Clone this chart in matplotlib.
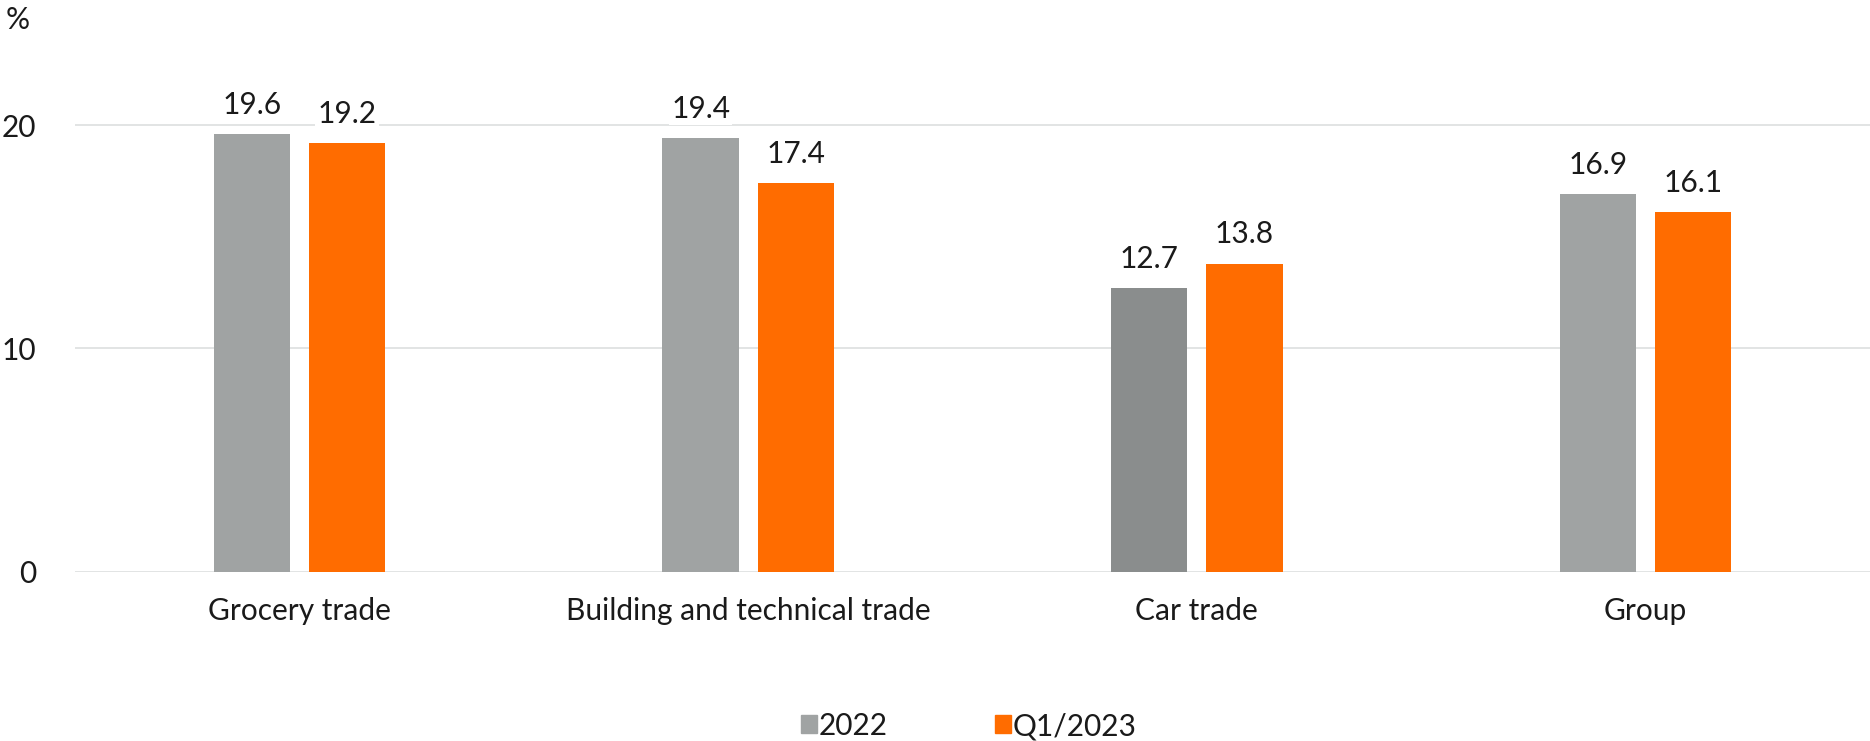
import numpy as np
import matplotlib.pyplot as plt
from matplotlib.patches import Patch

plt.rcParams['font.family'] = ['Lato', 'DejaVu Sans']

categories = ["Grocery trade", "Building and technical trade", "Car trade", "Group"]
series_names = ["2022", "Q1/2023"]
vals_2022 = [19.6, 19.4, 12.7, 16.9]
vals_q1 = [19.2, 17.4, 13.8, 16.1]
yticks = [0, 10, 20]

grey = "#a0a3a3"
grey_dark = "#8a8d8d"
orange = "#ff6c00"
grid_col = "#dfe2e2"
txt = "#1a1a1a"
fs = 21.5

fig = plt.figure(figsize=(18.7, 7.41), dpi=100)
ax = fig.add_axes([0.0401, 0.2285, 0.9599, 0.7233])

x = np.arange(len(categories))
w = 0.17
off = 0.106
grey_cols = [grey, grey, grey_dark, grey]
b1 = ax.bar(x - off, vals_2022, w, color=grey_cols, zorder=3)
b2 = ax.bar(x + off, vals_q1, w, color=orange, zorder=3)

for bars, vals in ((b1, vals_2022), (b2, vals_q1)):
    for r, v in zip(bars, vals):
        ax.annotate(f"{v:.1f}", (r.get_x() + r.get_width() / 2, v),
                    xytext=(0, 11), textcoords="offset points",
                    ha="center", va="bottom", fontsize=fs, color=txt,
                    bbox=dict(facecolor="white", edgecolor="none", pad=1.5),
                    zorder=4)

ax.set_xlim(-0.5, len(categories) - 0.5)
ax.set_ylim(0, 24)
ax.set_yticks(yticks)
ax.set_yticklabels([str(t) for t in yticks], fontsize=fs, color=txt)
ax.set_xticks(x)
ax.set_xticklabels(categories, fontsize=fs, color=txt)
ax.tick_params(axis="y", length=0, pad=28)
ax.tick_params(axis="x", length=0, pad=18)
ax.yaxis.grid(True, color=grid_col, linewidth=1.3, zorder=0)
ax.set_axisbelow(True)
for s in ax.spines.values():
    s.set_visible(False)

fig.text(18 / 1870, 1 - 20 / 741, "%", fontsize=fs, color=txt, ha="center", va="center")

handles = [Patch(color=grey), Patch(color=orange)]
fig.legend(handles, series_names, loc="center", bbox_to_anchor=(0.518, 1 - 726 / 741),
           ncol=2, frameon=False, fontsize=fs, handlelength=0.55, handleheight=0.55,
           handletextpad=0.05, columnspacing=3.6, labelcolor=txt)

fig.savefig("out.png", dpi=100)
